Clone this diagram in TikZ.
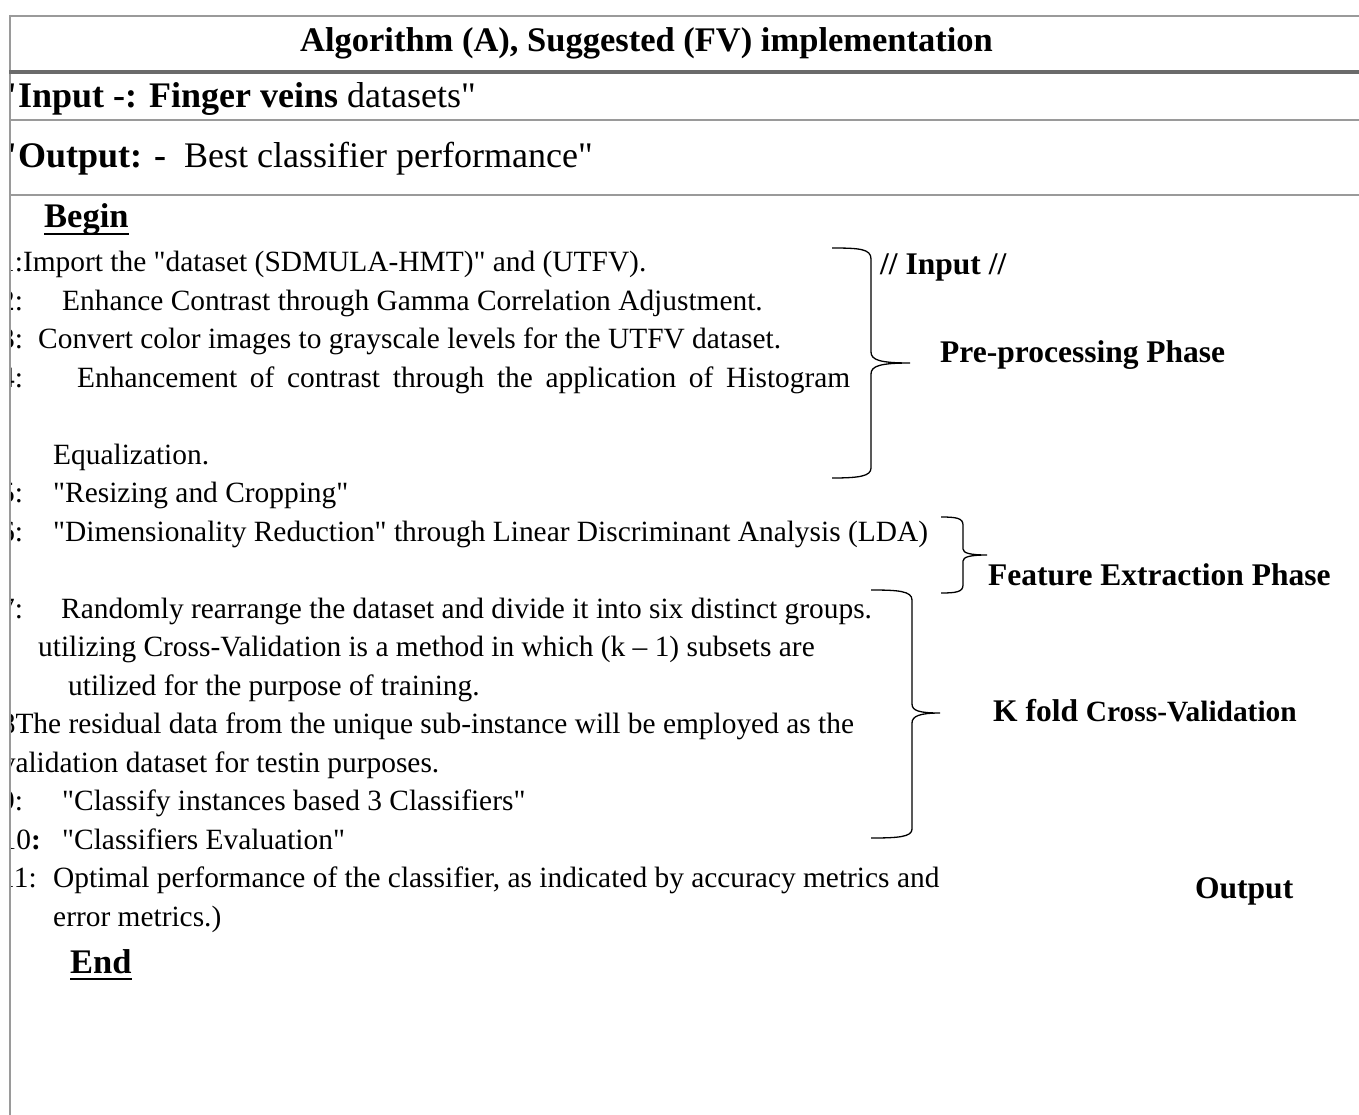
\documentclass[tikz,border=0pt]{standalone}
\usepackage{fontspec}
\setmainfont{Liberation Serif}[Ligatures=TeXOff]
\definecolor{rulegray}{HTML}{9A9A9A}
\definecolor{headgray}{HTML}{6B6B6B}
\newcommand\bodysize{\fontsize{29.4pt}{35pt}\selectfont}
\newcommand\headsize{\fontsize{34.5pt}{40pt}\selectfont}
\newcommand\iosize{\fontsize{36pt}{42pt}\selectfont}
\newcommand\phasesize{\fontsize{31.5pt}{37pt}\selectfont}
\tikzset{
  rowline/.style={draw=rulegray,line width=2pt},
  headrule/.style={draw=headgray,line width=4pt},
  algline/.style={anchor=base west,inner sep=0pt,font=\bodysize},
  headtext/.style={anchor=base west,inner sep=0pt,font=\headsize\bfseries},
  iotext/.style={anchor=base west,inner sep=0pt,font=\iosize},
  phase/.style={anchor=base west,inner sep=0pt,font=\phasesize\bfseries},
  curly/.style={line width=1.3pt,black},
  uline/.style={line width=2.5pt,black}
}
\begin{document}
\begin{tikzpicture}[x=1pt,y=-1pt]
  \useasboundingbox (0,0) rectangle (1359,1115);
  % cell contents, cut off at the left border of the table
  \begin{scope}
    \clip (11,0) rectangle (1359,1115);
    \node[headtext,anchor=base] (title) at (646.5,52) {Algorithm (A), Suggested (FV) implementation};
    \node[iotext] (input) at (-2,108) {\textbf{"Input -: Finger veins} datasets"};
    \node[iotext] (output) at (-2,168) {\textbf{"Output: -}\ \ Best classifier performance"};
    \node[headtext] (begin) at (44,228) {Begin};
    % steps 1-4
    \node[algline] (s1) at (0,271.5) {1:Import the "dataset (SDMULA-HMT)" and (UTFV).};
    \node[algline] (n2) at (0,310) {2:};
    \node[algline] (s2) at (62,310) {Enhance Contrast through Gamma Correlation Adjustment.};
    \node[algline] (n3) at (0,348.5) {3:};
    \node[algline] (s3) at (38,348.5) {Convert color images to grayscale levels for the UTFV dataset.};
    \node[algline] (n4) at (0,387) {4:};
    \node[algline] (s4) at (77,387) {\makebox[773pt][s]{Enhancement of contrast through the application of Histogram}};
    \node[algline] (s4b) at (53,464) {Equalization.};
    % steps 5-6
    \node[algline] (n5) at (0,502.5) {5:};
    \node[algline] (s5) at (53,502.5) {"Resizing and Cropping"};
    \node[algline] (n6) at (0,541) {6:};
    \node[algline] (s6) at (53,541) {"Dimensionality Reduction" through Linear Discriminant Analysis (LDA)};
    % steps 7-11
    \node[algline] (n7) at (0,618) {7:};
    \node[algline] (s7) at (61,618) {Randomly rearrange the dataset and divide it into six distinct groups.};
    \node[algline] (s7b) at (38,656.5) {utilizing Cross-Validation is a method in which (k – 1) subsets are};
    \node[algline] (s7c) at (68,695) {utilized for the purpose of training.};
    \node[algline] (s8) at (0.6,733.5) {8The residual data from the unique sub-instance will be employed as the};
    \node[algline] (s8b) at (0.6,772) {validation dataset for testin purposes.};
    \node[algline] (n9) at (0,810.5) {9:};
    \node[algline] (s9) at (62,810.5) {"Classify instances based 3 Classifiers"};
    \node[algline] (n10) at (1.5,849) {10\textbf{:}};
    \node[algline] (s10) at (62,849) {"Classifiers Evaluation"};
    \node[algline] (n11) at (0,887.5) {11:};
    \node[algline] (s11) at (53,887.5) {Optimal performance of the classifier, as indicated by accuracy metrics and};
    \node[algline] (s11b) at (53,926) {error metrics.)};
    \node[headtext] (end) at (70,973) {End};
  \end{scope}
  \draw[uline] ([yshift=-6pt]begin.base west) -- ([yshift=-6pt]begin.base east);
  \draw[uline] ([yshift=-6pt]end.base west) -- ([yshift=-6pt]end.base east);

  % table rules
  \draw[rowline] (9,16) -- (1359,16);
  \draw[rowline] (10,15) -- (10,1115);
  \draw[headrule] (9,72) -- (1359,72);
  \draw[rowline] (9,120) -- (1359,120);
  \draw[rowline] (9,195) -- (1359,195);

  % phase braces
  \draw[curly] (832,248) .. controls (860,248) and (871,249) .. (871,259) -- (871,352)
    .. controls (871,360) and (880,363) .. (910,363)
    .. controls (880,363) and (871,366) .. (871,374) -- (871,468)
    .. controls (871,476) and (860,478) .. (832,478);
  \draw[curly] (941,517) .. controls (956,517) and (963,518) .. (963,525) -- (963,549)
    .. controls (963,553) and (970,555) .. (987,555)
    .. controls (970,555) and (963,557) .. (963,561) -- (963,585)
    .. controls (963,592) and (956,593) .. (941,593);
  \draw[curly] (871,590) .. controls (898,590) and (912,591) .. (912,600) -- (912,704)
    .. controls (912,711) and (920,713) .. (940,713)
    .. controls (920,713) and (912,716) .. (912,723) -- (912,829)
    .. controls (912,837) and (898,838) .. (871,838);

  % phase labels
  \node[phase] (lin) at (880,274) {// Input //};
  \node[phase] (lpre) at (940,362) {Pre-processing Phase};
  \node[phase] (lfeat) at (988,585) {Feature Extraction Phase};
  \node[phase] (lkfold) at (993,721) {K fold {\bodysize Cross-Validation}};
  \node[phase] (lout) at (1195,898) {Output};
\end{tikzpicture}
\end{document}
